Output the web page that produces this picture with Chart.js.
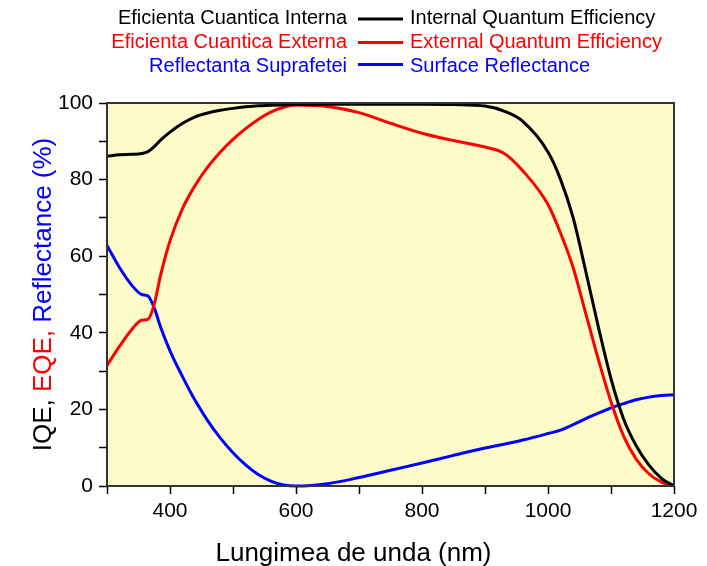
<!DOCTYPE html>
<html lang="ro">
<head>
<meta charset="UTF-8">
<title>IQE, EQE, Reflectance</title>
<script src="https://cdn.jsdelivr.net/npm/chart.js"></script>
<style>
  body { margin: 0; background: #fff; }
  canvas { display: block; }
</style>
</head>
<body>
<canvas id="myChart" width="707" height="566"></canvas>
<script>
  // wavelength (nm) and the three curves
  const wavelengths = [300, 320, 340, 355, 365, 375, 385, 400, 420, 440, 460, 480, 500, 520, 540, 560, 580, 600,
    650, 700, 750, 800, 850, 900, 930, 960, 1000, 1020, 1040, 1060, 1080, 1100, 1120, 1140, 1160, 1180, 1200];
  const iqe = [86.1, 86.5, 86.6, 86.8, 87.3, 88.6, 90.3, 92.4, 94.7, 96.4, 97.4, 98.1, 98.6, 99.0, 99.3, 99.4, 99.5, 99.6,
    99.7, 99.7, 99.7, 99.7, 99.6, 99.2, 97.9, 95.2, 87.2, 80.0, 70.0, 56.0, 41.5, 28.0, 17.5, 10.5, 5.5, 2.0, 0];
  const eqe = [31.5, 36.5, 41.0, 43.3, 43.5, 47.5, 55.0, 64.0, 72.5, 78.5, 83.3, 87.2, 90.5, 93.3, 95.7, 97.6, 98.9, 99.5,
    99.1, 97.5, 94.7, 92.1, 90.2, 88.5, 86.9, 82.3, 73.5, 66.0, 57.0, 45.0, 33.0, 22.0, 13.0, 7.0, 3.2, 1.0, 0];
  const reflectance = [62.8, 57.0, 52.3, 50.0, 49.6, 46.5, 41.5, 35.3, 28.5, 22.3, 17.0, 12.5, 8.7, 5.5, 3.0, 1.3, 0.3, 0,
    0.6, 2.2, 4.1, 6.0, 8.0, 9.9, 10.9, 12.0, 13.7, 14.6, 16.0, 17.6, 19.0, 20.4, 21.5, 22.5, 23.2, 23.6, 23.8];

  const labelsEn = ["Internal Quantum Efficiency", "External Quantum Efficiency", "Surface Reflectance"];
  const labelsRo = ["Eficienta Cuantica Interna", "Eficienta Cuantica Externa", "Reflectanta Suprafetei"];
  const yTitleParts = ["IQE, ", "EQE, ", "Reflectance (%)"];
  const xTitle = "Lungimea de unda (nm)";

  const FONT = '"Liberation Sans", Arial, sans-serif';
  const colors = ["#000000", "#ff0000", "#0000ff"];

  function points(values) {
    return wavelengths.map((w, i) => ({ x: w, y: values[i] }));
  }

  const decorations = {
    id: "decorations",
    beforeDraw(chart) {
      const { ctx, chartArea: a } = chart;
      ctx.save();
      ctx.fillStyle = "#fdfbc7";
      ctx.fillRect(a.left, a.top, a.right - a.left, a.bottom - a.top);
      ctx.restore();
    },
    afterDraw(chart) {
      const { ctx, chartArea: a } = chart;
      ctx.save();
      ctx.strokeStyle = "#333";
      ctx.lineWidth = 2;
      ctx.strokeRect(a.left, a.top, a.right - a.left, a.bottom - a.top);

      // two-language legend on top
      ctx.font = "20px " + FONT;
      ctx.textBaseline = "alphabetic";
      const baselines = [23.5, 47.5, 71.5];
      const lineYs = [19, 42.5, 64.5];
      chart.data.datasets.forEach((ds, i) => {
        ctx.fillStyle = ds.borderColor;
        ctx.textAlign = "right";
        ctx.fillText(labelsRo[i], 347, baselines[i]);
        ctx.textAlign = "left";
        ctx.fillText(ds.label, 410, baselines[i]);
        ctx.strokeStyle = ds.borderColor;
        ctx.lineWidth = 3;
        ctx.beginPath();
        ctx.moveTo(358, lineYs[i]);
        ctx.lineTo(403, lineYs[i]);
        ctx.stroke();
      });

      // x title, centred on the whole canvas
      ctx.font = "26px " + FONT;
      ctx.fillStyle = "#000";
      ctx.textAlign = "center";
      ctx.fillText(xTitle, chart.width / 2, 560.5);

      // y title in three colours
      ctx.translate(51, (a.top + a.bottom) / 2);
      ctx.rotate(-Math.PI / 2);
      ctx.textAlign = "left";
      const total = yTitleParts.reduce((s, t) => s + ctx.measureText(t).width, 0);
      let x = -total / 2;
      yTitleParts.forEach((t, i) => {
        ctx.fillStyle = colors[i];
        ctx.fillText(t, x, 0);
        x += ctx.measureText(t).width;
      });
      ctx.restore();
    }
  };

  const config = {
    type: "line",
    data: {
      datasets: [iqe, eqe, reflectance].map((vals, i) => ({
        label: labelsEn[i],
        data: points(vals),
        borderColor: colors[i],
        backgroundColor: colors[i],
        borderWidth: 3,
        pointRadius: 0,
        cubicInterpolationMode: "monotone",
        clip: 4
      }))
    },
    options: {
      responsive: false,
      animation: false,
      layout: { padding: { top: 103, right: 33, left: 0, bottom: 0 } },
      plugins: { legend: { display: false }, tooltip: { enabled: false } },
      scales: {
        x: {
          type: "linear",
          min: 300,
          max: 1200,
          afterFit(scale) { scale.height = 80; },
          border: { display: false },
          grid: { drawOnChartArea: false, tickLength: 8, tickColor: "#000", tickWidth: 1.5 },
          ticks: {
            stepSize: 100,
            autoSkip: false,
            maxRotation: 0,
            padding: 5,
            color: "#000",
            font: { family: FONT, size: 21 },
            callback: (v) => (v % 200 === 0 ? v : "")
          }
        },
        y: {
          min: 0,
          max: 100,
          afterFit(scale) { scale.width = 107; },
          border: { display: false },
          grid: { drawOnChartArea: false, tickLength: 8, tickColor: "#000", tickWidth: 1.5 },
          ticks: {
            stepSize: 10,
            autoSkip: false,
            padding: 6,
            color: "#000",
            font: { family: FONT, size: 21 },
            callback: (v) => (v % 20 === 0 ? v : "")
          }
        }
      }
    },
    plugins: [decorations]
  };

  new Chart(document.getElementById("myChart"), config);
</script>
</body>
</html>
